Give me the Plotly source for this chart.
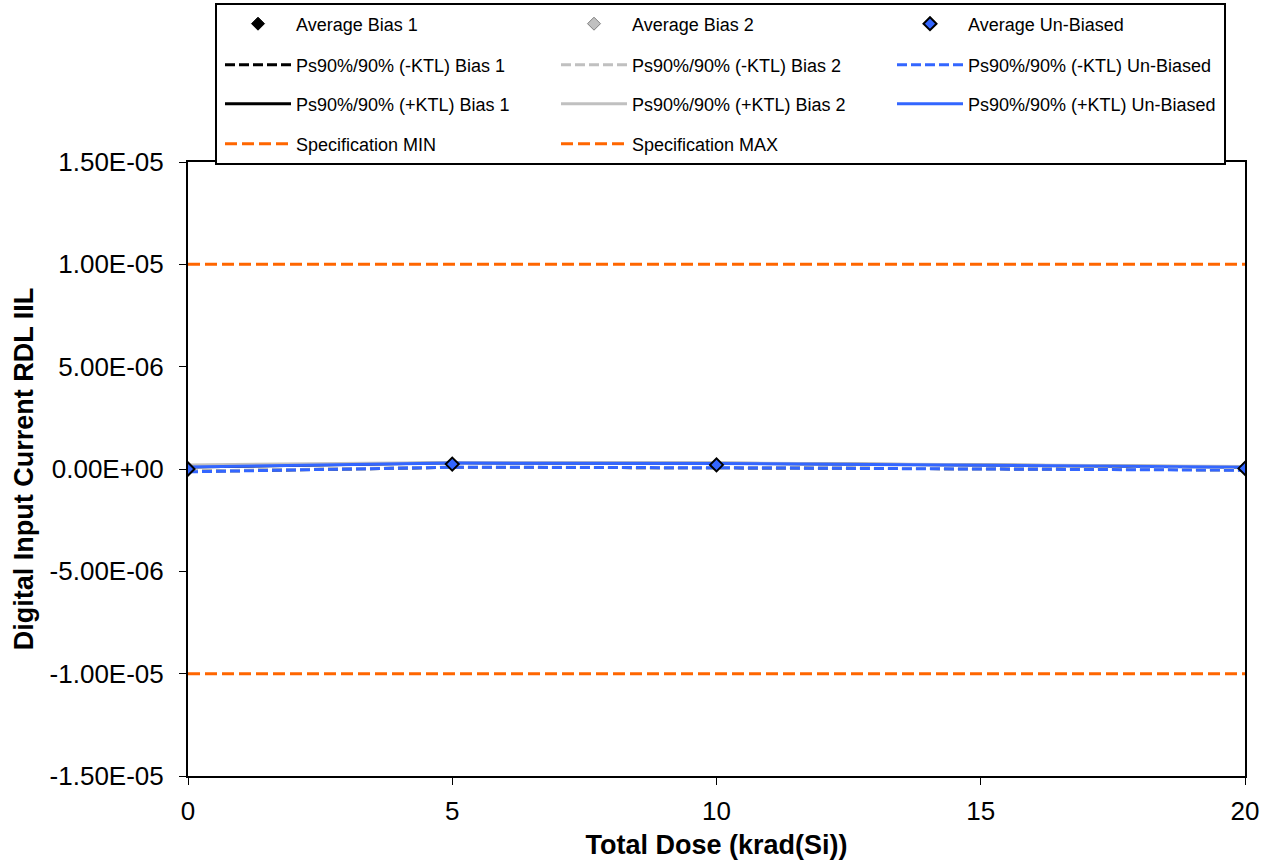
import plotly.graph_objects as go

dose = [0, 5, 10, 20]

avg_bias1 = [0.0, 2.4e-7, 2.0e-7, 0.4e-7]
avg_bias2 = [0.0, 2.3e-7, 2.0e-7, 0.4e-7]
avg_unbiased = [0.0, 2.4e-7, 2.0e-7, 0.3e-7]

neg_ktl_bias1 = [-1.2e-7, 0.8e-7, 0.6e-7, -0.4e-7]
neg_ktl_bias2 = [-1.0e-7, 0.9e-7, 0.7e-7, -0.3e-7]
neg_ktl_unbiased = [-1.4e-7, 0.9e-7, 0.6e-7, -0.6e-7]

pos_ktl_bias1 = [1.0e-7, 3.0e-7, 2.8e-7, 1.0e-7]
pos_ktl_bias2 = [2.0e-7, 3.2e-7, 3.0e-7, 1.2e-7]
pos_ktl_unbiased = [1.0e-7, 2.9e-7, 2.7e-7, 0.9e-7]

spec_min = [-1.0e-5, -1.0e-5, -1.0e-5, -1.0e-5]
spec_max = [1.0e-5, 1.0e-5, 1.0e-5, 1.0e-5]

x_ticks = [0, 5, 10, 15, 20]
y_ticks = [-1.5e-5, -1.0e-5, -5.0e-6, 0.0, 5.0e-6, 1.0e-5, 1.5e-5]
y_ticktext = [f"{v:.2E}" for v in y_ticks]

BLACK = "#000000"
GRAY = "#C0C0C0"
BLUE = "#3366FF"
ORANGE = "#FF6600"
FONT = "Liberation Sans, Arial, sans-serif"

fig = go.Figure()

# Spec lines
fig.add_trace(go.Scatter(x=dose, y=spec_min, mode="lines", name="Specification MIN",
                         line=dict(color=ORANGE, width=3, dash="12px,5px"), legend="legend4"))
fig.add_trace(go.Scatter(x=dose, y=spec_max, mode="lines", name="Specification MAX",
                         line=dict(color=ORANGE, width=3, dash="12px,5px"), legend="legend4"))

# +KTL lines
fig.add_trace(go.Scatter(x=dose, y=pos_ktl_bias1, mode="lines", name="Ps90%/90% (+KTL) Bias 1",
                         line=dict(color=BLACK, width=3), legend="legend3"))
fig.add_trace(go.Scatter(x=dose, y=pos_ktl_bias2, mode="lines", name="Ps90%/90% (+KTL) Bias 2",
                         line=dict(color=GRAY, width=3), legend="legend3"))
fig.add_trace(go.Scatter(x=dose, y=pos_ktl_unbiased, mode="lines", name="Ps90%/90% (+KTL) Un-Biased",
                         line=dict(color=BLUE, width=3), legend="legend3"))

# -KTL lines
fig.add_trace(go.Scatter(x=dose, y=neg_ktl_bias1, mode="lines", name="Ps90%/90% (-KTL) Bias 1",
                         line=dict(color=BLACK, width=3, dash="10px,4px"), legend="legend2"))
fig.add_trace(go.Scatter(x=dose, y=neg_ktl_bias2, mode="lines", name="Ps90%/90% (-KTL) Bias 2",
                         line=dict(color=GRAY, width=3, dash="10px,4px"), legend="legend2"))
fig.add_trace(go.Scatter(x=dose, y=neg_ktl_unbiased, mode="lines", name="Ps90%/90% (-KTL) Un-Biased",
                         line=dict(color=BLUE, width=3, dash="10px,4px"), legend="legend2"))

# Averages
fig.add_trace(go.Scatter(x=dose, y=avg_bias1, mode="markers", name="Average Bias 1",
                         marker=dict(symbol="diamond", size=10, color=BLACK,
                                     line=dict(color=BLACK, width=1)), legend="legend"))
fig.add_trace(go.Scatter(x=dose, y=avg_bias2, mode="markers", name="Average Bias 2",
                         marker=dict(symbol="diamond", size=10, color=GRAY,
                                     line=dict(color="#808080", width=1)), legend="legend"))
fig.add_trace(go.Scatter(x=dose, y=avg_unbiased, mode="markers", name="Average Un-Biased",
                         marker=dict(symbol="diamond", size=10, color=BLUE,
                                     line=dict(color=BLACK, width=2)), legend="legend"))

# layout geometry (pixels)
W, H = 1269, 865
L, R, T, B = 188, 24, 162, 89
pw, ph = W - L - R, H - T - B


def px_x(p):
    return (p - L) / pw


def px_y(p):
    return (H - B - p) / ph


leg_common = dict(orientation="h", xanchor="left", yanchor="middle",
                  entrywidth=255, entrywidthmode="pixels", itemwidth=66,
                  bgcolor="rgba(0,0,0,0)", borderwidth=0,
                  font=dict(family=FONT, size=18, color="#000000"),
                  traceorder="normal")
row_y = [24, 65, 104, 144]
leg_x = px_x(220)
fig.update_layout(
    legend=dict(leg_common, x=leg_x, y=px_y(row_y[0])),
    legend2=dict(leg_common, x=leg_x, y=px_y(row_y[1])),
    legend3=dict(leg_common, x=leg_x, y=px_y(row_y[2])),
    legend4=dict(leg_common, x=leg_x, y=px_y(row_y[3])),
)

fig.add_shape(type="rect", xref="paper", yref="paper",
              x0=px_x(216), x1=px_x(1225), y0=px_y(164), y1=px_y(4),
              line=dict(color="#000000", width=2), fillcolor="#FFFFFF", layer="above")

fig.update_layout(
    width=W, height=H,
    margin=dict(l=L, r=R, t=T, b=B, pad=0, autoexpand=False),
    paper_bgcolor="#FFFFFF", plot_bgcolor="#FFFFFF",
    font=dict(family=FONT, color="#000000"),
    showlegend=True,
    xaxis=dict(range=[0, 20], tickvals=x_ticks, ticktext=[str(v) for v in x_ticks],
               showgrid=False, zeroline=False, showline=True, linecolor="#000000",
               linewidth=2, mirror=True, ticks="outside", ticklen=7, tickcolor="#000000",
               tickwidth=1, tickfont=dict(family=FONT, size=26, color="#000000"),
               ticklabelstandoff=4,
               title=dict(text="<b>Total Dose (krad(Si))</b>",
                          font=dict(family=FONT, size=27, color="#000000"), standoff=10)),
    yaxis=dict(range=[-1.5e-5, 1.5e-5], tickvals=y_ticks, ticktext=y_ticktext,
               showgrid=False, zeroline=False, showline=True, linecolor="#000000",
               linewidth=2, mirror=True, ticks="outside", ticklen=7, tickcolor="#000000",
               tickwidth=1, tickfont=dict(family=FONT, size=26, color="#000000"),
               ticklabelstandoff=10,
               title=dict(text="<b>Digital Input Current RDL IIL</b>",
                          font=dict(family=FONT, size=27, color="#000000"), standoff=8)),
)

fig.write_html("out.html")
